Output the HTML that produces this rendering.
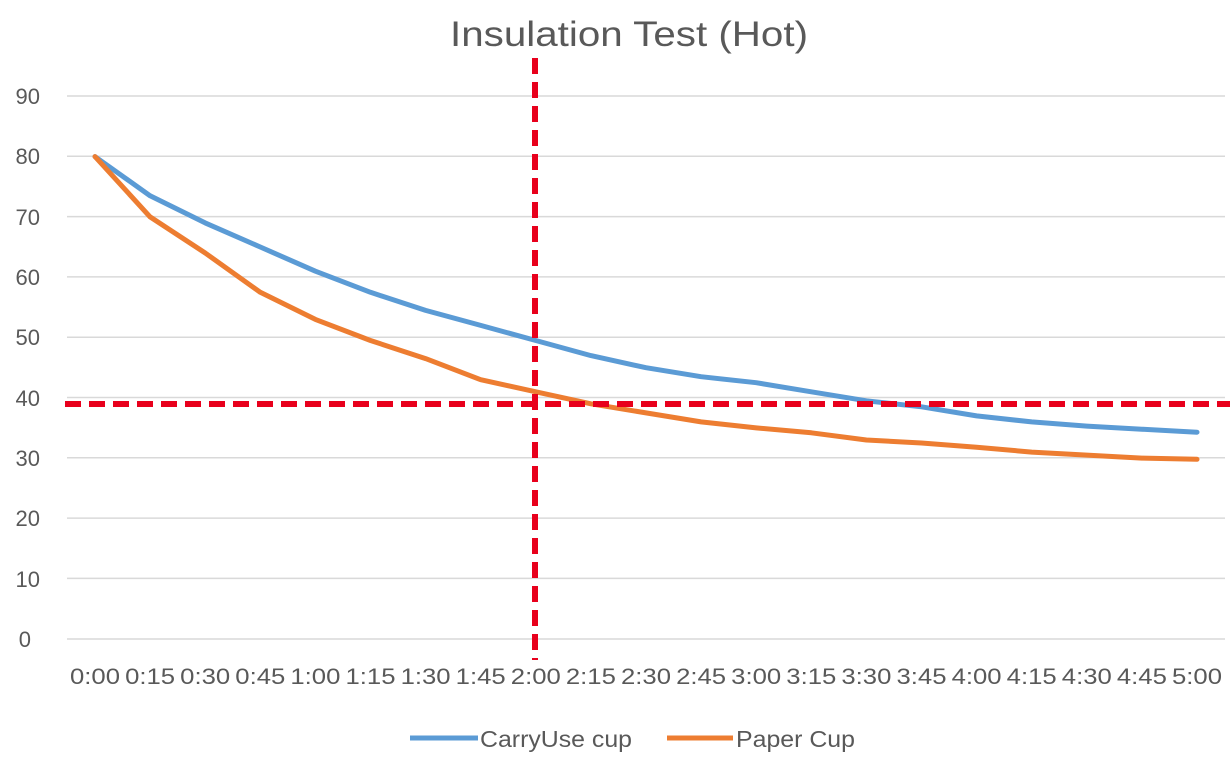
<!DOCTYPE html>
<html><head><meta charset="utf-8"><style>
html,body{margin:0;padding:0;background:#fff;}
svg{display:block;font-family:"Liberation Sans",sans-serif;}
</style></head><body>
<svg width="1230" height="780" viewBox="0 0 1230 780">
<rect width="1230" height="780" fill="#fff"/>
<text x="450" y="46" font-size="35" fill="#595959" textLength="358" lengthAdjust="spacingAndGlyphs">Insulation Test (Hot)</text>
<g stroke="#d9d9d9" stroke-width="1.5">
<line x1="67" y1="96" x2="1225" y2="96"/>
<line x1="67" y1="156.3" x2="1225" y2="156.3"/>
<line x1="67" y1="216.6" x2="1225" y2="216.6"/>
<line x1="67" y1="276.9" x2="1225" y2="276.9"/>
<line x1="67" y1="337.2" x2="1225" y2="337.2"/>
<line x1="67" y1="397.5" x2="1225" y2="397.5"/>
<line x1="67" y1="457.8" x2="1225" y2="457.8"/>
<line x1="67" y1="518.1" x2="1225" y2="518.1"/>
<line x1="67" y1="578.4" x2="1225" y2="578.4"/>
<line x1="67" y1="639" x2="1225" y2="639"/>
</g>
<g font-size="22" fill="#595959" text-anchor="end">
<text x="40" y="104">90</text><text x="40" y="164">80</text><text x="40" y="225">70</text>
<text x="40" y="285">60</text><text x="40" y="345">50</text><text x="40" y="406">40</text>
<text x="40" y="466">30</text><text x="40" y="526">20</text><text x="40" y="587">10</text>
<text x="31" y="647">0</text>
</g>
<g font-size="22" fill="#595959" text-anchor="middle">
<text x="95" y="684" textLength="50" lengthAdjust="spacingAndGlyphs">0:00</text><text x="150.1" y="684" textLength="50" lengthAdjust="spacingAndGlyphs">0:15</text><text x="205.2" y="684" textLength="50" lengthAdjust="spacingAndGlyphs">0:30</text>
<text x="260.3" y="684" textLength="50" lengthAdjust="spacingAndGlyphs">0:45</text><text x="315.4" y="684" textLength="50" lengthAdjust="spacingAndGlyphs">1:00</text><text x="370.5" y="684" textLength="50" lengthAdjust="spacingAndGlyphs">1:15</text>
<text x="425.6" y="684" textLength="50" lengthAdjust="spacingAndGlyphs">1:30</text><text x="480.7" y="684" textLength="50" lengthAdjust="spacingAndGlyphs">1:45</text><text x="535.8" y="684" textLength="50" lengthAdjust="spacingAndGlyphs">2:00</text>
<text x="590.9" y="684" textLength="50" lengthAdjust="spacingAndGlyphs">2:15</text><text x="646" y="684" textLength="50" lengthAdjust="spacingAndGlyphs">2:30</text><text x="701.1" y="684" textLength="50" lengthAdjust="spacingAndGlyphs">2:45</text>
<text x="756.2" y="684" textLength="50" lengthAdjust="spacingAndGlyphs">3:00</text><text x="811.3" y="684" textLength="50" lengthAdjust="spacingAndGlyphs">3:15</text><text x="866.4" y="684" textLength="50" lengthAdjust="spacingAndGlyphs">3:30</text>
<text x="921.5" y="684" textLength="50" lengthAdjust="spacingAndGlyphs">3:45</text><text x="976.6" y="684" textLength="50" lengthAdjust="spacingAndGlyphs">4:00</text><text x="1031.7" y="684" textLength="50" lengthAdjust="spacingAndGlyphs">4:15</text>
<text x="1086.8" y="684" textLength="50" lengthAdjust="spacingAndGlyphs">4:30</text><text x="1141.9" y="684" textLength="50" lengthAdjust="spacingAndGlyphs">4:45</text><text x="1197" y="684" textLength="50" lengthAdjust="spacingAndGlyphs">5:00</text>
</g>
<polyline fill="none" stroke="#5b9bd5" stroke-width="5" stroke-linejoin="round" stroke-linecap="round" points="95,156.6 150.1,195.8 205.2,222.9 260.3,247 315.4,271.2 370.5,292.3 425.6,310.4 480.7,325.4 535.8,340.5 590.9,355.6 646,367.7 701.1,376.7 756.2,382.7 811.3,391.8 866.4,400.8 921.5,406.8 976.6,415.9 1031.7,421.9 1086.8,426.1 1141.9,429.2 1197,432.2"/>
<polyline fill="none" stroke="#ed7d31" stroke-width="5" stroke-linejoin="round" stroke-linecap="round" points="95,156.6 150.1,216.9 205.2,253 260.3,292.3 315.4,319.4 370.5,340.5 425.6,358.6 480.7,379.7 535.8,391.8 590.9,403.8 646,412.9 701.1,421.9 756.2,427.9 811.3,432.8 866.4,440 921.5,443 976.6,447.2 1031.7,452.1 1086.8,455.1 1141.9,458.1 1197,459.3"/>
<line x1="535" y1="58" x2="535" y2="660" stroke="#e8001c" stroke-width="6" stroke-dasharray="16,8"/>
<line x1="65" y1="404" x2="1230" y2="404" stroke="#e8001c" stroke-width="6" stroke-dasharray="16,8"/>
<line x1="410" y1="738" x2="478" y2="738" stroke="#5b9bd5" stroke-width="5"/>
<text x="480" y="747" font-size="23" fill="#595959" textLength="152" lengthAdjust="spacingAndGlyphs">CarryUse cup</text>
<line x1="667" y1="738" x2="733" y2="738" stroke="#ed7d31" stroke-width="5"/>
<text x="736" y="747" font-size="23" fill="#595959" textLength="119" lengthAdjust="spacingAndGlyphs">Paper Cup</text>
</svg>
</body></html>
